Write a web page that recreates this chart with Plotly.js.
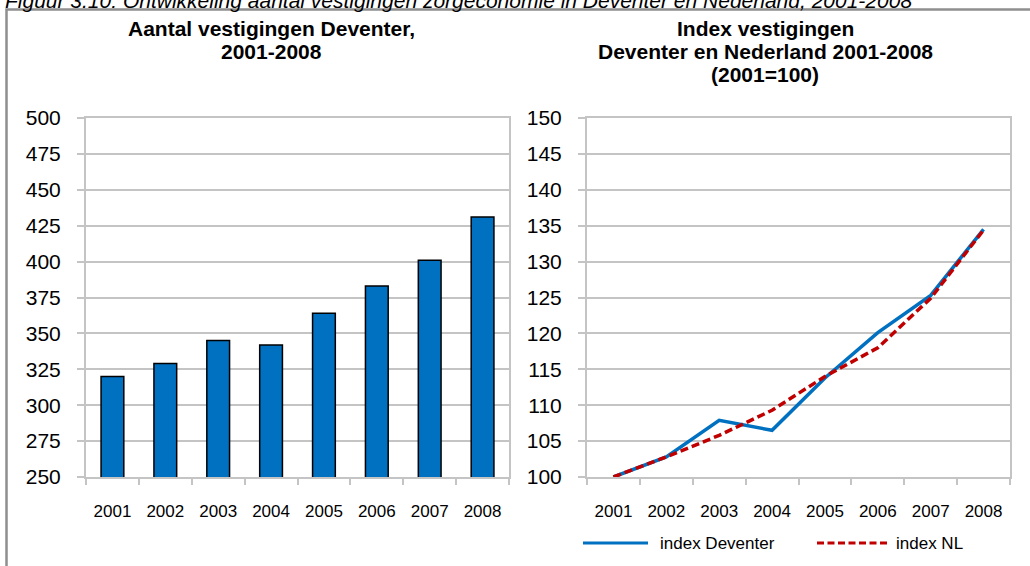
<!DOCTYPE html>
<html>
<head>
<meta charset="utf-8">
<script src="https://cdn.plot.ly/plotly-3.0.1.min.js"></script>
<style>
  html, body { margin: 0; padding: 0; background: #fff; }
  #chart { width: 1030px; height: 566px; }
</style>
</head>
<body>
<div id="chart"></div>
<script>
// ---- data ----
const years = ['2001', '2002', '2003', '2004', '2005', '2006', '2007', '2008'];
const vestigingenDeventer = [320, 329, 345, 342, 364, 383, 401, 431];
const indexDeventer = [100, 102.8, 107.9, 106.5, 113.8, 120.1, 125.3, 134.5];
const indexNL = [100, 102.8, 105.8, 109.3, 114.0, 118.0, 124.9, 134.4];
const seriesNames = ['index Deventer', 'index NL'];
const leftTitleLines = ['Aantal vestigingen Deventer,', '2001-2008'];
const rightTitleLines = ['Index vestigingen', 'Deventer en Nederland 2001-2008', '(2001=100)'];
const captionText = 'Figuur 3.10: Ontwikkeling aantal vestigingen zorgeconomie in Deventer en Nederland, 2001-2008';

// ---- helpers (pixel -> paper, margins are zero) ----
const W = 1030, H = 566;
const px = x => x / W;
const py = y => 1 - y / H;

const FONT = 'Liberation Sans, Arial, sans-serif';
const BLUE = '#0070C0';
const RED = '#C00000';
const GRID = '#c4c4c4';

const traces = [
  {
    type: 'bar', x: years, y: vestigingenDeventer, xaxis: 'x', yaxis: 'y',
    width: 0.43,
    marker: { color: BLUE, line: { color: '#000', width: 1.5 } },
    showlegend: false, hoverinfo: 'x+y'
  },
  {
    type: 'scatter', mode: 'lines', name: seriesNames[0], x: years, y: indexDeventer,
    xaxis: 'x2', yaxis: 'y2',
    line: { color: BLUE, width: 3.5 }, showlegend: false
  },
  {
    type: 'scatter', mode: 'lines', name: seriesNames[1], x: years, y: indexNL,
    xaxis: 'x2', yaxis: 'y2',
    line: { color: RED, width: 3.5, dash: '8px,4px' }, showlegend: false
  }
];

const yDomain = [py(477), py(118)];

const xCommon = {
  type: 'category', tickson: 'boundaries', showgrid: false, zeroline: false,
  range: [-0.5, years.length - 0.5], autorange: false,
  showline: true, linecolor: GRID, linewidth: 2, mirror: true,
  ticks: 'outside', ticklen: 6, tickwidth: 2, tickcolor: GRID,
  tickfont: { family: FONT, size: 17, color: '#000' },
  ticklabelstandoff: 18, fixedrange: true
};
const yCommon = {
  showgrid: true, gridcolor: GRID, gridwidth: 2, zeroline: false,
  showline: true, linecolor: GRID, linewidth: 2, mirror: true,
  ticks: 'outside', ticklen: 7, tickwidth: 2, tickcolor: GRID,
  tickfont: { family: FONT, size: 21, color: '#000' },
  ticklabelstandoff: 12, fixedrange: true
};

const annotations = [];
function addText(text, x, y, size, opts) {
  annotations.push(Object.assign({
    text: text, xref: 'paper', yref: 'paper', x: px(x), y: py(y),
    xanchor: 'center', yanchor: 'middle', showarrow: false,
    font: { family: FONT, size: size, color: '#000' }
  }, opts || {}));
}

// caption (partly cut off at the top, as in the reference)
addText('<i>' + captionText + '</i>', 3, 0.5, 21, { xanchor: 'left' });

// titles
const leftY = [28.4, 51.2];
leftTitleLines.forEach((t, i) => addText('<b>' + t + '</b>', 271, leftY[i], 21));
const rightY = [28.4, 52, 74.4];
rightTitleLines.forEach((t, i) => addText('<b>' + t + '</b>', 765, rightY[i], 21));

// manual legend
const legendY = 543;
const shapes = [
  { type: 'rect', xref: 'paper', yref: 'paper', x0: px(6.5), x1: 1.05, y0: -0.05, y1: py(9.5),
    line: { color: '#8f8f8f', width: 2.5 }, fillcolor: 'rgba(0,0,0,0)', layer: 'below' },
  { type: 'line', xref: 'paper', yref: 'paper', x0: px(583), x1: px(648), y0: py(legendY), y1: py(legendY),
    line: { color: BLUE, width: 3 } },
  { type: 'line', xref: 'paper', yref: 'paper', x0: px(817), x1: px(887), y0: py(legendY), y1: py(legendY),
    line: { color: RED, width: 3, dash: '7px,3.5px' } }
];
addText(seriesNames[0], 658, legendY, 17, { xanchor: 'left' });
addText(seriesNames[1], 894, legendY, 17, { xanchor: 'left' });

const layout = {
  width: W, height: H,
  margin: { l: 0, r: 0, t: 0, b: 0, pad: 0 },
  paper_bgcolor: '#fff', plot_bgcolor: '#fff',
  showlegend: false,
  font: { family: FONT, color: '#000' },
  xaxis: Object.assign({}, xCommon, { domain: [px(86), px(509)], anchor: 'y' }),
  yaxis: Object.assign({}, yCommon, { domain: yDomain, anchor: 'x', range: [250, 500], dtick: 25, tick0: 250 }),
  xaxis2: Object.assign({}, xCommon, { domain: [px(587), px(1010)], anchor: 'y2' }),
  yaxis2: Object.assign({}, yCommon, { domain: yDomain, anchor: 'x2', range: [100, 150], dtick: 5, tick0: 100 }),
  annotations: annotations,
  shapes: shapes
};

Plotly.newPlot('chart', traces, layout, { displayModeBar: false, staticPlot: true });
</script>
</body>
</html>
